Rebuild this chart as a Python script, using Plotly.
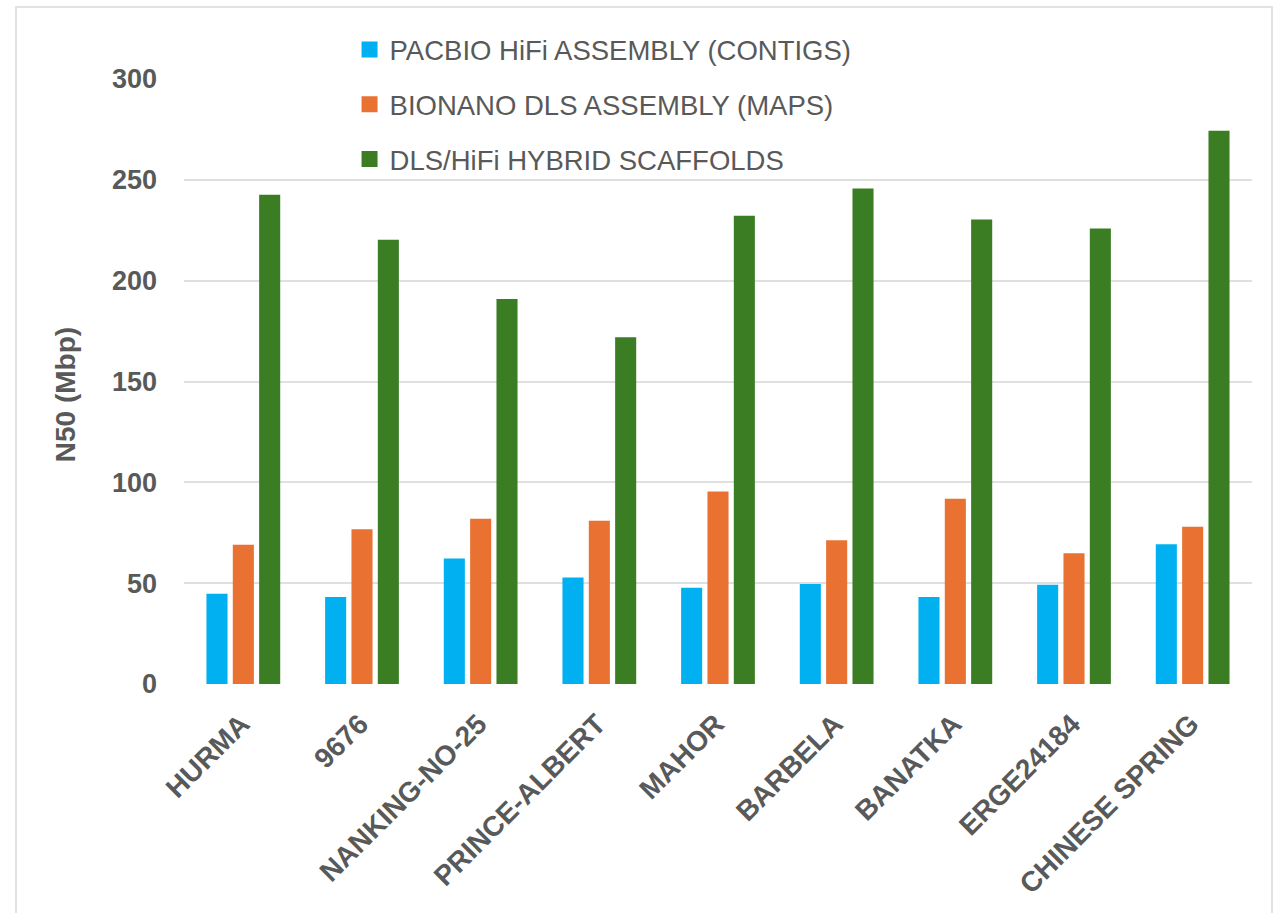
import plotly.graph_objects as go

# N50 contiguity per wheat cultivar (Mbp)
cultivars = ["HURMA", "9676", "NANKING-NO-25", "PRINCE-ALBERT", "MAHOR",
             "BARBELA", "BANATKA", "ERGE24184", "CHINESE SPRING"]
hifi_contigs = [44.8, 43.2, 62.2, 52.8, 47.7, 49.6, 43.2, 49.2, 69.3]
dls_maps = [69.1, 76.7, 81.9, 80.9, 95.4, 71.3, 91.8, 64.8, 78.0]
hybrid_scaffolds = [242.6, 220.3, 190.9, 172.0, 232.2, 245.7, 230.3, 225.9, 274.4]

series_names = ["PACBIO HiFi ASSEMBLY (CONTIGS)",
                "BIONANO DLS ASSEMBLY (MAPS)",
                "DLS/HiFi HYBRID SCAFFOLDS"]
series_colors = ["#00B0F0", "#E97132", "#3B7D23"]
y_ticks = [0, 50, 100, 150, 200, 250, 300]

TEXT = "#595959"
FONT = "Liberation Sans, Arial, sans-serif"

fig = go.Figure()
for name, vals, col in zip(series_names,
                           [hifi_contigs, dls_maps, hybrid_scaffolds],
                           series_colors):
    fig.add_trace(go.Bar(x=cultivars, y=vals, name=name,
                         marker=dict(color=col, line=dict(width=0)),
                         showlegend=False))
    # legend swatch with a larger square
    fig.add_trace(go.Scatter(x=[None], y=[None], mode="markers", name=name,
                             marker=dict(symbol="square", size=16, color=col),
                             legendgroup=name, showlegend=True))

fig.update_layout(
    width=1281, height=913,
    margin=dict(l=184, r=29, t=79, b=228.5),
    paper_bgcolor="white", plot_bgcolor="white",
    barmode="group", bargap=0.334, bargroupgap=0.2,
    font=dict(family=FONT, color=TEXT),
    legend=dict(x=0.155, y=1.089, xanchor="left", yanchor="top",
                font=dict(size=27.5, color=TEXT, family=FONT),
                bgcolor="rgba(0,0,0,0)", tracegroupgap=16,
                itemsizing="trace"),
    xaxis=dict(tickangle=-45, showgrid=False, zeroline=False, showline=False,
               tickfont=dict(size=28, color=TEXT, family=FONT, weight="bold"),
               ticklabelstandoff=17, ticklabelshift=-2),
    yaxis=dict(range=[0, 300], tickvals=y_ticks, showgrid=True,
               gridcolor="#e0e0e0", gridwidth=2, zeroline=False, showline=False,
               tickfont=dict(size=27, color=TEXT, family=FONT, weight="bold"),
               ticklabelstandoff=26),
    shapes=[dict(type="rect", xref="paper", yref="paper",
                 x0=-0.1573, x1=1.0187, y0=-0.6, y1=1.119,
                 line=dict(color="#e2e2e2", width=2), layer="below")],
    annotations=[dict(text="<b>N50 (Mbp)</b>", xref="paper", yref="paper",
                      x=-0.1274, y=0.478, textangle=-90, showarrow=False,
                      font=dict(size=28, color=TEXT, family=FONT))],
)

fig.write_html("out.html")
